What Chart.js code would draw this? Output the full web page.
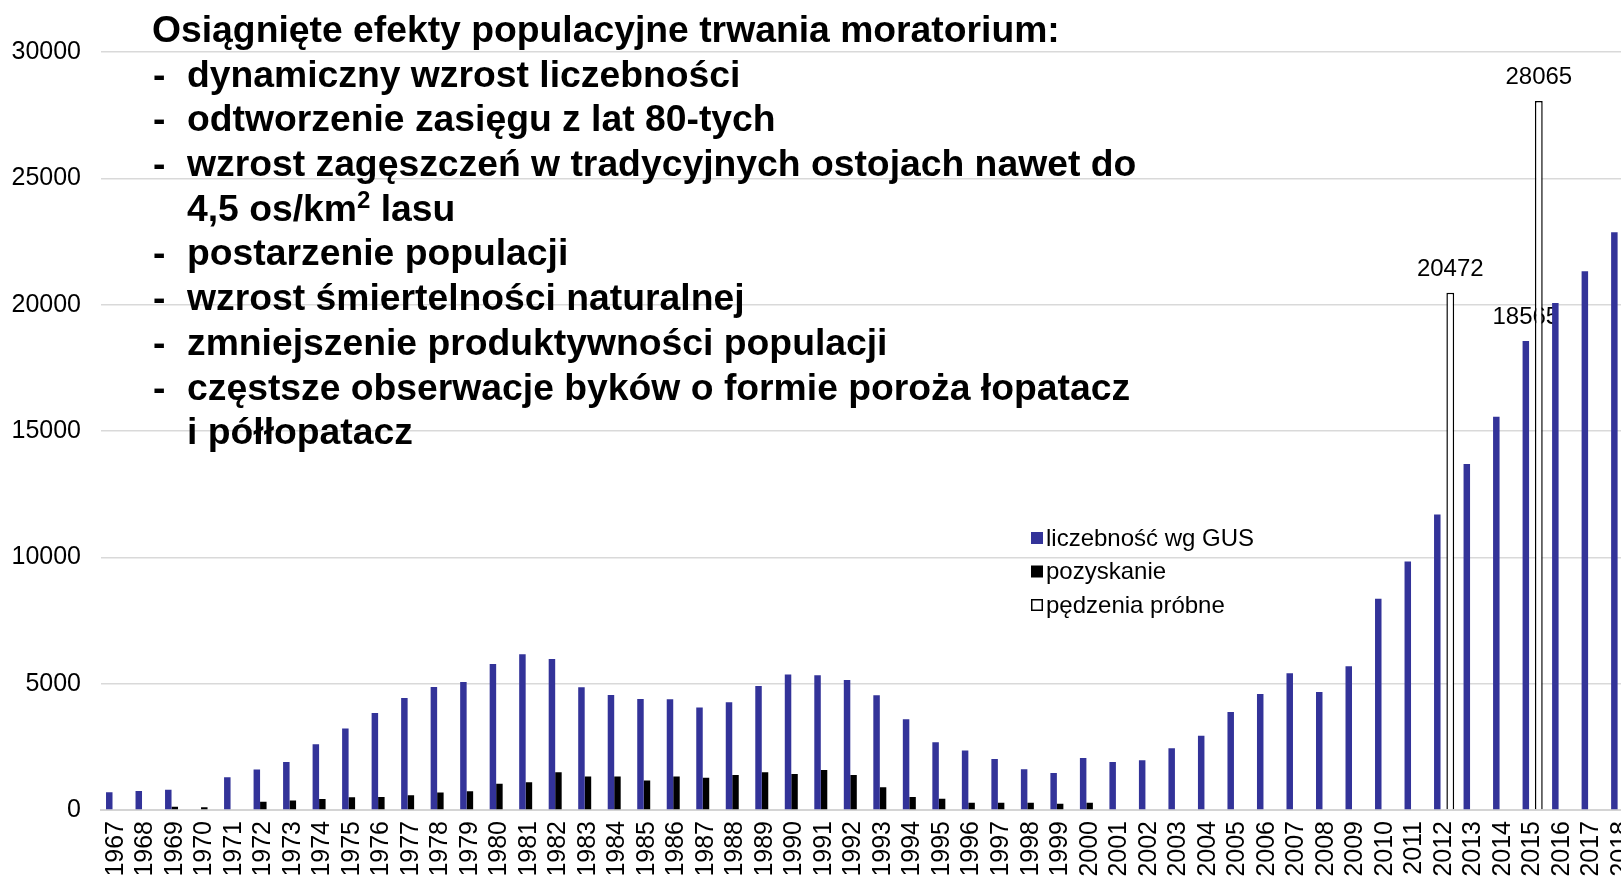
<!DOCTYPE html>
<html>
<head>
<meta charset="utf-8">
<script src="https://cdn.jsdelivr.net/npm/chart.js@4.4.1/dist/chart.umd.min.js"></script>
<style>
  html, body { margin: 0; padding: 0; background: #fff; overflow: hidden; }
  #wrap { position: relative; width: 1621px; height: 876px; overflow: hidden; }
  #chart { position: absolute; left: 0; top: 0; }
  #notes { position: absolute; left: 152px; top: 7px; font: bold 37.3px 'Liberation Sans', Arial, sans-serif;
           line-height: 44.7px; color: #000; white-space: nowrap; }
  #notes .row { position: relative; height: 44.7px; padding-left: 35px; }
  #notes .row.first { padding-left: 0; }
  #notes .dash { position: absolute; left: 1px; }
  #notes .sup { font-size: 24px; line-height: 0; position: relative; top: -13px; }
</style>
</head>
<body>
<div id="wrap">
  <canvas id="chart" width="1654" height="876"></canvas>
  <div id="notes">
    <div class="row first">Osiągnięte efekty populacyjne trwania moratorium:</div>
    <div class="row"><span class="dash">-</span>dynamiczny wzrost liczebności</div>
    <div class="row"><span class="dash">-</span>odtworzenie zasięgu z lat 80-tych</div>
    <div class="row"><span class="dash">-</span>wzrost zagęszczeń w tradycyjnych ostojach nawet do</div>
    <div class="row">4,5 os/km<span class="sup">2</span> lasu</div>
    <div class="row"><span class="dash">-</span>postarzenie populacji</div>
    <div class="row"><span class="dash">-</span>wzrost śmiertelności naturalnej</div>
    <div class="row"><span class="dash">-</span>zmniejszenie produktywności populacji</div>
    <div class="row"><span class="dash">-</span>częstsze obserwacje byków o formie poroża łopatacz</div>
    <div class="row">i półłopatacz</div>
  </div>
</div>
<script>
// lata 1967 - 2018
const years = ['1967','1968','1969','1970','1971','1972','1973','1974','1975','1976',
  '1977','1978','1979','1980','1981','1982','1983','1984','1985','1986',
  '1987','1988','1989','1990','1991','1992','1993','1994','1995','1996',
  '1997','1998','1999','2000','2001','2002','2003','2004','2005','2006',
  '2007','2008','2009','2010','2011','2012','2013','2014','2015','2016',
  '2017','2018'];

// liczebność wg GUS
const liczebnosc = [700, 750, 800, null, 1300, 1600, 1900, 2600, 3230, 3840,
  4430, 4870, 5070, 5780, 6160, 5980, 4860, 4550, 4390, 4380,
  4060, 4260, 4910, 5360, 5330, 5150, 4540, 3590, 2680, 2350,
  2020, 1610, 1460, 2060, 1900, 1970, 2440, 2940, 3880, 4590,
  5410, 4670, 5690, 8360, 9840, 11700, 13690, 15560, 18565, 20070,
  21320, 22870];

// pozyskanie
const pozyskanie = [null, null, 130, 105, null, 330, 380, 435, 500, 515,
  580, 690, 740, 1040, 1100, 1490, 1330, 1330, 1170, 1330,
  1280, 1385, 1490, 1425, 1580, 1385, 900, 515, 450, 290,
  290, 290, 250, 290, null, null, null, null, null, null,
  null, null, null, null, null, null, null, null, null, null,
  null, null];

// pędzenia próbne
const pedzenia = [null, null, null, null, null, null, null, null, null, null,
  null, null, null, null, null, null, null, null, null, null,
  null, null, null, null, null, null, null, null, null, null,
  null, null, null, null, null, null, null, null, null, null,
  null, null, null, null, null, 20472, null, null, 28065, null,
  null, null];

const yTicks = [0, 5000, 10000, 15000, 20000, 25000, 30000];
const labelledYears = ['2015'];   // słupki GUS z etykietą

const FONT = "'Liberation Sans', Arial, sans-serif";

const valueLabels = {
  id: 'valueLabels',
  beforeDatasetsDraw(chart) {
    const ctx = chart.ctx;
    const meta = chart.getDatasetMeta(0);
    ctx.save();
    ctx.font = '24px ' + FONT;
    ctx.fillStyle = '#000';
    ctx.textAlign = 'center';
    ctx.textBaseline = 'alphabetic';
    labelledYears.forEach(y => {
      const i = years.indexOf(y);
      const bar = meta.data[i];
      ctx.fillText(String(liczebnosc[i]), bar.x, bar.y - 17);
    });
    ctx.restore();
  },
  afterDatasetsDraw(chart) {
    const ctx = chart.ctx;
    const meta = chart.getDatasetMeta(2);
    ctx.save();
    ctx.font = '24px ' + FONT;
    ctx.fillStyle = '#000';
    ctx.textAlign = 'center';
    ctx.textBaseline = 'alphabetic';
    pedzenia.forEach((v, i) => {
      if (v == null) return;
      const bar = meta.data[i];
      ctx.fillText(String(v), bar.x, bar.y - 17);
    });
    ctx.restore();
  }
};

const boxLegend = {
  id: 'boxLegend',
  afterDraw(chart) {
    const ctx = chart.ctx;
    ctx.save();
    ctx.font = '24px ' + FONT;
    ctx.textBaseline = 'middle';
    ctx.textAlign = 'left';
    chart.data.datasets.forEach((ds, k) => {
      const y = 538 + k * 33.5;
      ctx.fillStyle = ds.backgroundColor;
      ctx.fillRect(1031, y - 6, 12, 12);
      if (ds.borderWidth) {
        ctx.strokeStyle = ds.borderColor;
        ctx.lineWidth = 1.5;
        ctx.strokeRect(1031.75, y - 5.25, 10.5, 10.5);
      }
      ctx.fillStyle = '#000';
      ctx.fillText(ds.label, 1046, y + 1);
    });
    ctx.restore();
  }
};

new Chart(document.getElementById('chart'), {
  type: 'bar',
  data: {
    labels: years,
    datasets: [
      { label: 'liczebność wg GUS', data: liczebnosc, backgroundColor: '#333399',
        categoryPercentage: 0.66, barPercentage: 1 },
      { label: 'pozyskanie', data: pozyskanie, backgroundColor: '#000000',
        categoryPercentage: 0.66, barPercentage: 1 },
      { label: 'pędzenia próbne', data: pedzenia, backgroundColor: '#ffffff',
        borderColor: '#000000', borderWidth: 1.5,
        categoryPercentage: 0.66, barPercentage: 1.2 }
    ]
  },
  options: {
    responsive: false,
    animation: false,
    events: [],
    layout: { padding: { top: 52, right: 15, bottom: 0, left: 0 } },
    plugins: { legend: { display: false }, tooltip: { enabled: false } },
    scales: {
      x: {
        offset: true,
        grid: { display: false },
        border: { color: '#d4d4d4', width: 2 },
        ticks: { color: '#000', font: { size: 25, family: FONT }, minRotation: 90, maxRotation: 90,
                 autoSkip: false, padding: 3 },
        afterFit(s) { s.height = 66; }
      },
      y: {
        min: 0, max: 30000,
        afterBuildTicks(s) { s.ticks = yTicks.map(v => ({ value: v })); },
        grid: { color: '#d9d9d9', lineWidth: 1.5, drawTicks: false },
        border: { display: false },
        ticks: { color: '#000', font: { size: 25, family: FONT }, padding: 20,
                 callback: v => String(v) },
        afterFit(s) { s.width = 101; }
      }
    }
  },
  plugins: [valueLabels, boxLegend]
});
</script>
</body>
</html>
